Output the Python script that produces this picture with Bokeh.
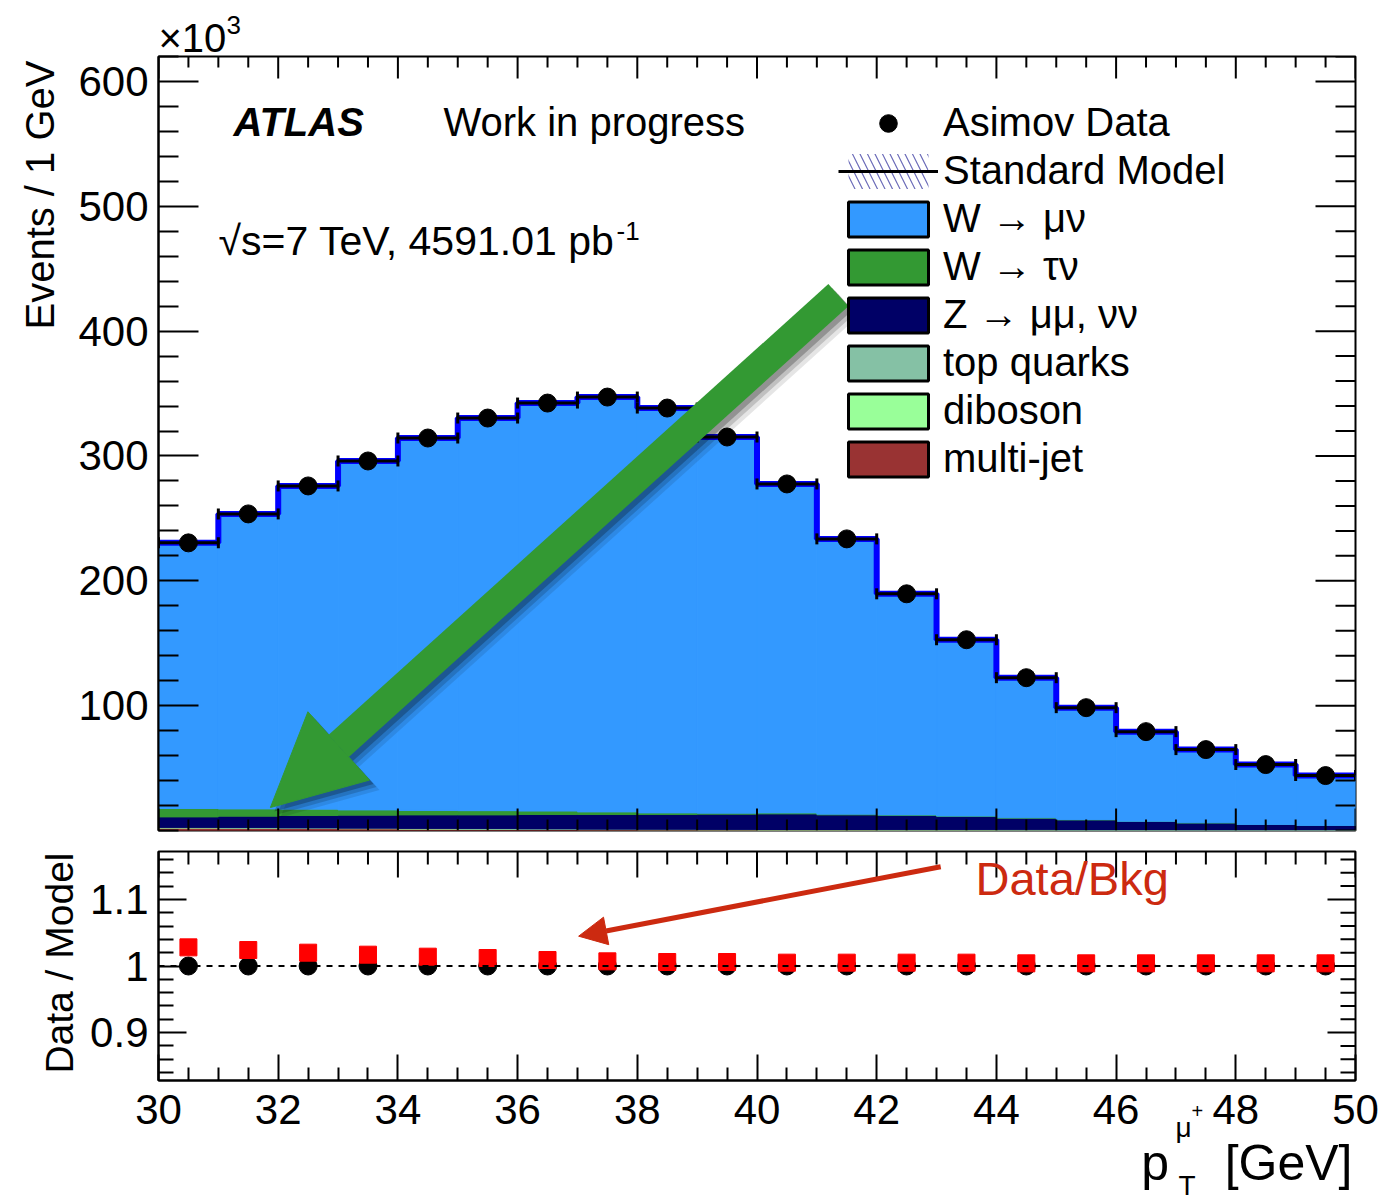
import numpy as np
from bokeh.plotting import figure
from bokeh.models import (ColumnDataSource, Range1d, FixedTicker, LinearAxis, Legend,
                          LegendItem, Label, Arrow, NormalHead, Whisker, TeeHead, Span, Title)
from bokeh.layouts import column
from bokeh.embed import file_html
from bokeh.resources import INLINE

FONT = "Liberation Sans"

# ---------------- data (values in units of 10^3 events / GeV) ----------------
bin_low = [30, 31, 32, 33, 34, 35, 36, 37, 38, 39,
           40, 41, 42, 43, 44, 45, 46, 47, 48, 49]
bin_width = 1.0
asimov_data = [230.4, 253.6, 276.0, 296.0, 314.4, 330.4, 342.4, 347.2, 338.4, 315.2,
               277.6, 233.6, 189.6, 152.8, 122.4, 98.4, 79.2, 64.8, 52.8, 44.0]
w_munu = [212.8, 236.3, 258.9, 279.5, 298.3, 314.5, 326.8, 332.3, 324.3, 301.3,
          263.6, 220.5, 177.1, 141.2, 112.2, 89.7, 71.8, 58.6, 47.9, 39.9]
w_taunu = [6.7, 5.8, 5.1, 4.2, 3.6, 3.4, 2.8, 2.1, 1.3, 0.8,
           0.8, 0.6, 0.5, 0.4, 0.3, 0.2, 0.2, 0.1, 0.1, 0.1]
z_bkg = [8.4, 9.2, 9.9, 10.4, 10.8, 11.0, 11.5, 11.7, 11.8, 12.2,
         12.5, 11.7, 11.3, 10.5, 9.3, 8.0, 6.7, 5.7, 4.4, 3.6]
top_quarks = [0.3, 0.3, 0.3, 0.3, 0.3, 0.3, 0.3, 0.3, 0.3, 0.3,
              0.3, 0.3, 0.3, 0.3, 0.25, 0.25, 0.25, 0.2, 0.2, 0.2]
diboson = [0.2, 0.2, 0.2, 0.2, 0.2, 0.2, 0.2, 0.2, 0.2, 0.2,
           0.2, 0.2, 0.2, 0.2, 0.15, 0.15, 0.15, 0.1, 0.1, 0.1]
multijet = [2.0, 1.8, 1.6, 1.4, 1.2, 1.0, 0.8, 0.6, 0.5, 0.4,
            0.3, 0.3, 0.2, 0.2, 0.2, 0.1, 0.1, 0.1, 0.1, 0.1]
ratio_model = [1.0, 1.0, 1.0, 1.0, 1.0, 1.0, 1.0, 1.0, 1.0, 1.0,
               1.0, 1.0, 1.0, 1.0, 1.0, 1.0, 1.0, 1.0, 1.0, 1.0]
ratio_bkg = [1.028, 1.024, 1.020, 1.017, 1.014, 1.012, 1.009, 1.007, 1.006, 1.006,
             1.005, 1.005, 1.005, 1.005, 1.004, 1.004, 1.004, 1.004, 1.004, 1.004]
x_ticks = [30, 32, 34, 36, 38, 40, 42, 44, 46, 48, 50]
y_ticks_main = [100, 200, 300, 400, 500, 600]
y_ticks_ratio = [0.9, 1.0, 1.1]

# annotation geometry (data coordinates of the hand-drawn arrows)
green_arrow = dict(x_start=41.36, y_start=428.8, x_end=31.87, y_end=18.4)
red_arrow = dict(x_start=43.07, y_start=1.149, x_end=37.02, y_end=1.0448)

# colours
C_WMU, C_WTAU, C_Z = "#3399ff", "#339933", "#000066"
C_TOP, C_DIB, C_MJ = "#85c1a5", "#99ff99", "#993333"
C_ARROW = "#339933"
C_RED = "#cc2a10"

lo = np.array(bin_low, dtype=float)
centers = lo + bin_width / 2
hi = lo + bin_width

src = ColumnDataSource(dict(x=centers, lo=lo, hi=hi, data=asimov_data,
                            mj=multijet, dib=diboson, top=top_quarks,
                            z=z_bkg, wtau=w_taunu, wmu=w_munu))

FRAME_L, FRAME_W = 158, 1197
MAIN_TOP, MAIN_H = 56, 774
RATIO_TOP, RATIO_H = 851, 229
X0, X1 = 30, 50
Y0, Y1 = 0, 620
R0, R1 = 0.828, 1.172

px_x = (X1 - X0) / FRAME_W
px_y_main = (Y1 - Y0) / MAIN_H
px_y_ratio = (R1 - R0) / RATIO_H

minor_x = [v for v in np.round(np.arange(X0, X1 + 0.01, 0.5), 2) if v not in x_ticks]


def cx(sx):
    return X0 + (sx - FRAME_L) * px_x


def cy_main(sy):
    return Y1 - (sy - MAIN_TOP) * px_y_main


def cy_ratio(sy):
    return R1 - (sy - RATIO_TOP) * px_y_ratio


def style_axis(ax, tin, tmin, size="42px", standoff=10):
    ax.axis_line_color = "black"
    ax.axis_line_width = 2
    ax.major_tick_in = tin
    ax.major_tick_out = 0
    ax.minor_tick_in = tmin
    ax.minor_tick_out = 0
    ax.major_tick_line_width = 2
    ax.minor_tick_line_width = 2
    ax.major_tick_line_color = "black"
    ax.minor_tick_line_color = "black"
    ax.major_label_text_font = FONT
    ax.major_label_text_font_size = size
    ax.major_label_text_color = "black"
    ax.major_label_standoff = standoff


def side_ticks(fig, xticks, xminor, yticks, yminor, x_len, y_len, top=True, bottom=False, right=True):
    """inward tick marks on the unlabeled sides of a frame"""
    ymin, ymax = fig.y_range.start, fig.y_range.end
    xmax = fig.x_range.end
    x0s, y0s, x1s, y1s = [], [], [], []
    for ticks, L in [(xticks, x_len[0]), (xminor, x_len[1])]:
        for t in ticks:
            if top:
                x0s.append(t); x1s.append(t); y0s.append(ymax); y1s.append(ymax - L)
            if bottom:
                x0s.append(t); x1s.append(t); y0s.append(ymin); y1s.append(ymin + L)
    for ticks, L in [(yticks, y_len[0]), (yminor, y_len[1])]:
        for t in ticks:
            if right:
                x0s.append(xmax); x1s.append(xmax - L); y0s.append(t); y1s.append(t)
    fig.segment(x0=x0s, y0=y0s, x1=x1s, y1=y1s, line_color="black", line_width=2)


def make_label(text, x, y, size, units="screen", **kw):
    opts = dict(x_units=units, y_units=units, text_font=FONT,
                text_font_size=size, text_color="black", text_baseline="middle")
    opts.update(kw)
    return Label(x=x, y=y, text=text, **opts)


# ---------------- main panel ----------------
p = figure(width=1380, height=840, x_range=Range1d(X0, X1), y_range=Range1d(Y0, Y1),
           output_backend="svg", toolbar_location=None,
           min_border_left=158, min_border_right=25, min_border_top=56, min_border_bottom=10,
           x_axis_location=None, y_axis_location=None)
p.grid.visible = False
p.outline_line_color = "black"
p.outline_line_width = 2

minor_y = [v for v in range(0, 621, 20) if v not in y_ticks_main]
ax = LinearAxis(ticker=FixedTicker(ticks=y_ticks_main, minor_ticks=minor_y))
style_axis(ax, 40, 20)
p.add_layout(ax, "left")

stack_fields = ["mj", "dib", "top", "z", "wtau", "wmu"]
stack_colors = [C_MJ, C_DIB, C_TOP, C_Z, C_WTAU, C_WMU]
p.vbar_stack(stack_fields, x="x", width=bin_width, source=src,
             fill_color=stack_colors, line_color=stack_colors, line_width=1)

edges = np.append(lo, hi[-1])
step_y = np.append(asimov_data, asimov_data[-1])
p.step(x=edges, y=step_y, mode="after", line_color="#0000ff", line_width=6)

p.scatter("x", "data", source=src, size=18, color="black")

side_ticks(p, x_ticks, minor_x, y_ticks_main, minor_y,
           (22 * px_y_main, 11 * px_y_main), (40 * px_x, 20 * px_x), top=True, bottom=True, right=True)

sm = Whisker(source=src, base="data", lower="lo", upper="hi", dimension="width",
             line_color="black", line_width=3,
             lower_head=TeeHead(size=11, line_width=3, line_color="black"),
             upper_head=TeeHead(size=11, line_width=3, line_color="black"),
             level="annotation")
p.add_layout(sm)

# legend proxies (single NaN entry: nothing drawn in the frame)
nan = [float("nan")]
r_leg_data = p.scatter(x=nan, y=nan, size=18, color="black")
r_leg_band = p.quad(left=nan, right=nan, top=nan, bottom=nan, fill_color=None, line_color=None,
                    hatch_pattern="\\", hatch_color="#6a6ab8", hatch_weight=1.2, hatch_scale=15)
r_leg_line = p.line(x=nan, y=nan, line_color="black", line_width=3)
leg_boxes = []
for c in [C_WMU, C_WTAU, C_Z, C_TOP, C_DIB, C_MJ]:
    leg_boxes.append(p.quad(left=nan, right=nan, top=nan, bottom=nan, fill_color=c,
                            line_color="black", line_width=3))
labels = ["W \u2192 \u03bc\u03bd", "W \u2192 \u03c4\u03bd", "Z \u2192 \u03bc\u03bc, \u03bd\u03bd",
          "top quarks", "diboson", "multi-jet"]
items = [LegendItem(label="Asimov Data", renderers=[r_leg_data]),
         LegendItem(label="Standard Model", renderers=[r_leg_band, r_leg_line])]
items += [LegendItem(label=l, renderers=[r]) for l, r in zip(labels, leg_boxes)]
legend = Legend(items=items, location=(680, 349), label_text_font=FONT,
                label_text_font_size="40px", label_text_color="black",
                glyph_width=100, glyph_height=44,
                label_standoff=5, spacing=3, padding=0, margin=0,
                border_line_color=None, background_fill_alpha=0)
p.add_layout(legend)

# green arrow with soft shadow
for off, a in [(10, 0.10), (7, 0.16), (4, 0.24)]:
    p.add_layout(Arrow(end=NormalHead(size=92, fill_color="black", fill_alpha=a, line_color=None),
                       x_start=green_arrow["x_start"] + off * px_x, y_start=green_arrow["y_start"] - off * px_y_main,
                       x_end=green_arrow["x_end"] + off * px_x, y_end=green_arrow["y_end"] - off * px_y_main,
                       line_color="black", line_alpha=a, line_width=30))
p.add_layout(Arrow(end=NormalHead(size=92, fill_color=C_ARROW, line_color=C_ARROW, line_width=1),
                   line_color=C_ARROW, line_width=30, **green_arrow))

p.add_layout(make_label("ATLAS", 75, 709, "40px", text_font_style="bold italic"))
p.add_layout(make_label("Work in progress", 285, 709, "40px"))
p.add_layout(make_label("\u221as=7 TeV, 4591.01 pb", 60, 590, "41px"))
p.add_layout(make_label("-1", 458, 600, "26px"))

p.add_layout(Title(text="Events / 1 GeV", align="right", offset=4, standoff=28,
                   text_font=FONT, text_font_size="40px", text_font_style="normal",
                   text_color="black"), "left")
# "x10^3" multiplier above the frame (side panels are not clipped by the frame)
p.add_layout(make_label("\u00d710", cx(158), cy_main(37), "40px", units="data"), "above")
p.add_layout(make_label("3", cx(226), cy_main(24), "26px", units="data"), "right")

# ---------------- ratio panel ----------------
q = figure(width=1380, height=362, x_range=Range1d(X0, X1), y_range=Range1d(R0, R1),
           output_backend="svg", toolbar_location=None,
           min_border_left=158, min_border_right=25, min_border_top=11, min_border_bottom=122,
           x_axis_location=None, y_axis_location=None)
q.grid.visible = False
q.outline_line_color = "black"
q.outline_line_width = 2

minor_r = [v for v in np.round(np.arange(0.84, 1.171, 0.02), 2) if v not in y_ticks_ratio]
ay = LinearAxis(ticker=FixedTicker(ticks=y_ticks_ratio, minor_ticks=minor_r),
                major_label_overrides={0.9: "0.9", 1.0: "1", 1.1: "1.1"})
style_axis(ay, 28, 15)
q.add_layout(ay, "left")
axx = LinearAxis(ticker=FixedTicker(ticks=x_ticks, minor_ticks=minor_x))
style_axis(axx, 26, 13, standoff=14)
q.add_layout(axx, "below")

side_ticks(q, x_ticks, minor_x, y_ticks_ratio, minor_r,
           (26 * px_y_ratio, 13 * px_y_ratio), (28 * px_x, 15 * px_x), top=True, bottom=False, right=True)

q.add_layout(Span(location=1.0, dimension="width", line_color="black",
                  line_width=2, line_dash="6 6"))
rsrc = ColumnDataSource(dict(x=centers, model=ratio_model, bkg=ratio_bkg))
q.scatter("x", "model", source=rsrc, size=18, color="black")
q.scatter("x", "bkg", source=rsrc, size=17, marker="square", color="#ff0000")

q.add_layout(Arrow(end=NormalHead(size=28, fill_color=C_RED, line_color=C_RED, line_width=1),
                   line_color=C_RED, line_width=5, **red_arrow))
q.add_layout(make_label("Data/Bkg", 817, 202, "47px", text_color=C_RED))

q.add_layout(Title(text="Data / Model", align="right", offset=1, standoff=13,
                   text_font=FONT, text_font_size="39px", text_font_style="normal",
                   text_color="black"), "left")

# x-axis title p_T^{mu+} [GeV]: pieces in the side panels, placed in the panel's data coordinates
NBSP = "\u00a0"
q.add_layout(make_label("p" + NBSP * 4 + "[GeV]", cx(1352), cy_ratio(1162), "50px", units="data",
                        text_align="right"), "below")
q.add_layout(make_label("\u03bc", cx(1175), cy_ratio(1127), "28px", units="data"), "right")
q.add_layout(make_label("+", cx(1191), cy_ratio(1110), "20px", units="data"), "left")
q.add_layout(make_label("T", cx(1178), cy_ratio(1185), "28px", units="data"), "left")

layout = column(p, q, spacing=0)
open("out.html", "w").write(file_html(layout, INLINE))
